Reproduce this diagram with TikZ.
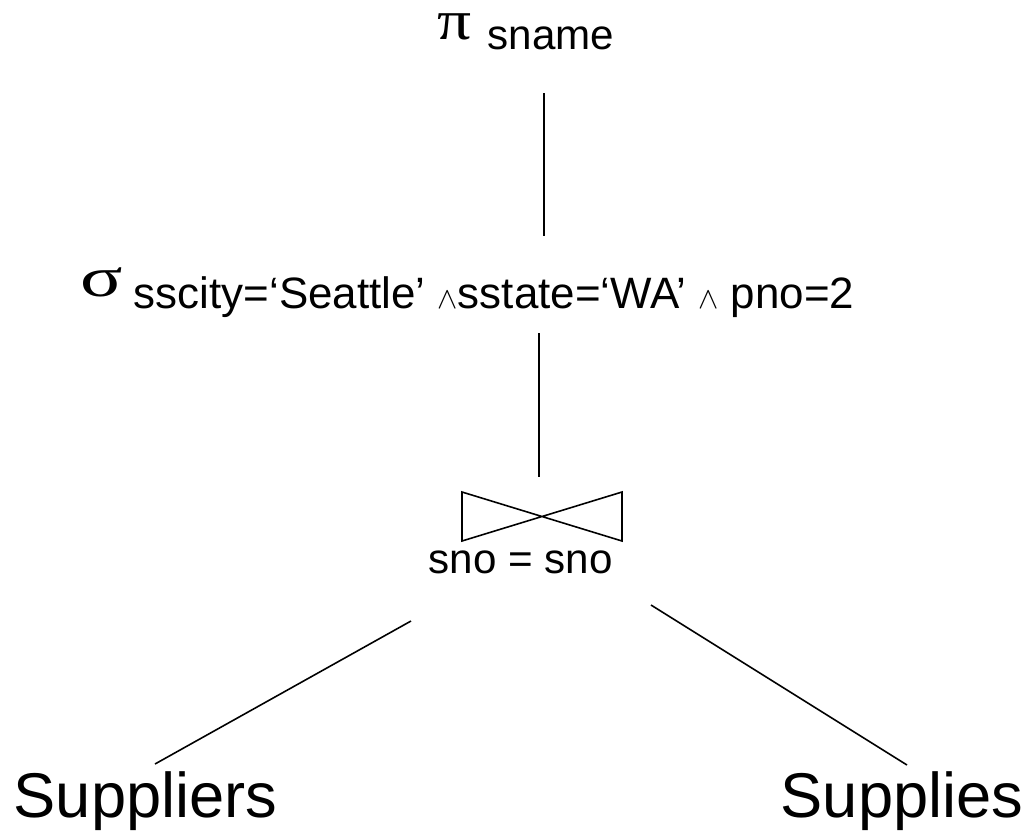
\documentclass[tikz,border=0pt]{standalone}
\usepackage{fontspec}
\setmainfont{Liberation Sans}
\newfontfamily\pifont[FakeStretch=1.2]{Liberation Serif}
\newfontfamily\sigmafont[FakeStretch=1.4]{Liberation Serif}

\newcommand{\andop}{{\fontsize{16}{16}\selectfont$\wedge$}}

\begin{document}
\begin{tikzpicture}[x=0.02cm,y=-0.02cm,line width=0.9pt,
  lbl/.style={anchor=base west, inner sep=0pt},
  op/.style={lbl, text height=1.2ex, text depth=0pt},
  relname/.style={lbl, font=\fontsize{36}{36}\selectfont}]
\useasboundingbox (0,0) rectangle (1028,833);

% projection
\node[op, font=\pifont\fontsize{32}{32}\selectfont] (pi) at (437,39) {π};
\node[lbl, font=\fontsize{24}{24}\selectfont] (pilist) at (487,49) {sname};

% selection
\node[op, font=\sigmafont\fontsize{32}{32}\selectfont] (sigma) at (80,296) {σ};
\node[lbl, font=\fontsize{25}{25}\selectfont] (sigmacond) at (133,308)
  {sscity=‘Seattle’ \andop sstate=‘WA’ \andop\ pno=2};

% join
\coordinate (J) at (542,516.5);
\draw (462,492) -- (462,541) -- (622,492) -- (622,541) -- cycle;
\node[lbl, font=\fontsize{24}{24}\selectfont] (joincond) at (428,573) {sno = sno};

% relations
\node[relname] (suppliers) at (13,817) {Suppliers};
\node[relname] (supplies) at (780,817) {Supplies};

\coordinate (p1) at (544,93);
\coordinate (s1) at (544,236);
\coordinate (s2) at (539,333);
\coordinate (j1) at (539,477);
\coordinate (jl) at (411,621);
\coordinate (rl) at (155,764);
\coordinate (jr) at (651,605);
\coordinate (rr) at (907,765);

\draw (p1) -- (s1);
\draw (s2) -- (j1);
\draw (jl) -- (rl);
\draw (jr) -- (rr);
\end{tikzpicture}
\end{document}
